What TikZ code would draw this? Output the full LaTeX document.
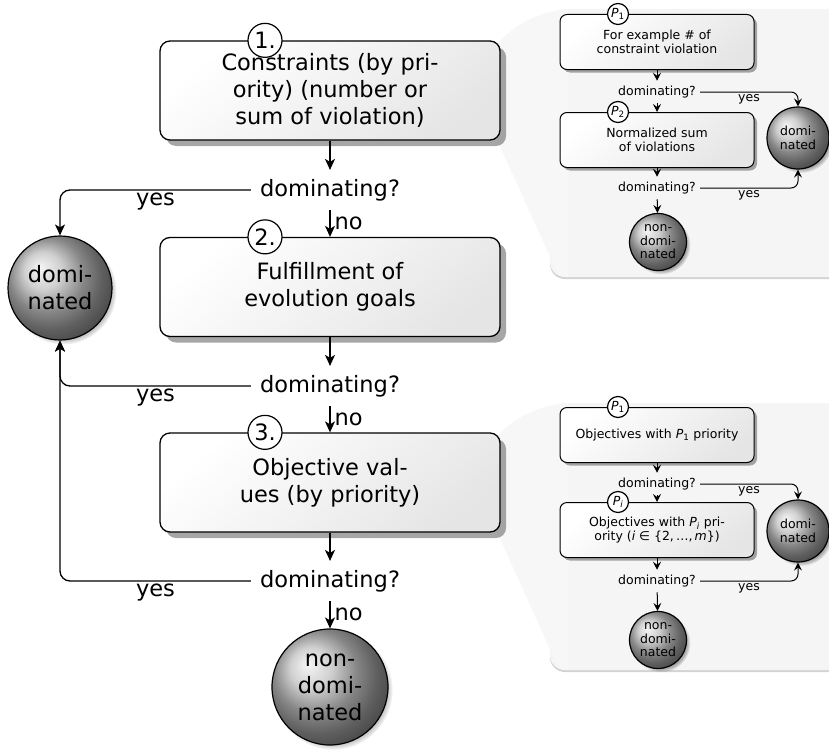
\documentclass[tikz,border=0pt]{standalone}
\usepackage{fontspec}
\setmainfont{DejaVu Sans}
\usepackage{tikz}
\usetikzlibrary{shapes,arrows.meta}
\usetikzlibrary{positioning}
\usetikzlibrary{shadows}
\newcommand{\bigfont}{\fontsize{22.5}{27}\selectfont}
\newcommand{\smallfont}{\fontsize{12.5}{13.5}\selectfont}
\tikzstyle{block} = [rectangle, draw, line width=1.3pt, rounded corners=10pt,
    top color=white, bottom color=gray!20, shading angle=40,
    minimum width=340pt, minimum height=99pt, align=center, font=\bigfont,
    drop shadow={shadow xshift=6pt, shadow yshift=-6pt, opacity=.7}]
\tikzstyle{sblock} = [rectangle, draw, line width=1pt, rounded corners=7pt,
    top color=white, bottom color=gray!20, shading angle=40,
    minimum width=194pt, minimum height=55pt, align=center, font=\smallfont,
    drop shadow={shadow xshift=3pt, shadow yshift=-3pt, opacity=.7}]
\tikzstyle{ball} = [circle, draw, line width=1.2pt, ball color=gray!50,
    inner sep=0pt, align=center,
    circular drop shadow={shadow xshift=3pt, shadow yshift=-3pt, shadow scale=1.03, opacity=.7}]
\tikzstyle{numtag} = [circle, draw, line width=1.2pt, fill=white, inner sep=0pt]
\tikzstyle{decision} = [inner xsep=9pt, inner ysep=9pt, font=\bigfont]
\tikzstyle{sdecision} = [inner xsep=4pt, inner ysep=5pt, font=\smallfont]
\tikzstyle{panel} = [fill=gray!8, rounded corners=15pt,
    drop shadow={shadow xshift=0pt, shadow yshift=-2pt, opacity=.35}]
\tikzstyle{wedge} = [fill=gray!6]
\tikzstyle{line} = [draw, line width=1.3pt, -{Stealth[length=11pt, width=10pt, inset=3pt]}]
\tikzstyle{sline} = [draw, line width=1pt, -{Stealth[length=8pt, width=8pt, inset=3pt]}]

\begin{document}
\begin{tikzpicture}[x=1pt, y=-1pt]
  \useasboundingbox (0,0) rectangle (829,752);

  % Zoom panels
  \path [panel] (550,9) rectangle (845,277);
  \path [wedge] (497,44) .. controls (515,24) and (540,11) .. (568,9) -- (568,277)
      -- (566,277) .. controls (559,276) .. (557,272) -- (498,142) -- cycle;
  \path [panel] (550,403) rectangle (845,670);
  \path [wedge] (497,436) .. controls (515,417) and (540,405) .. (568,403) -- (568,670)
      -- (566,670) .. controls (559,669) .. (557,665) -- (498,534) -- cycle;

  % Place nodes
  \node [block] (c1) at (330,90.5) {Constraints (by pri-\\ority) (number or\\sum of violation)};
  \node [numtag, minimum size=34pt, font=\bigfont] (n1) at ([xshift=-65pt]c1.north) {1.};
  \node [decision] (d1) at (330,190) {dominating?};
  \node [block] (c2) at (330,287) {Fulfillment of\\evolution goals};
  \node [numtag, minimum size=34pt, font=\bigfont] (n2) at ([xshift=-65pt]c2.north) {2.};
  \node [decision] (d2) at (330,386) {dominating?};
  \node [block] (c3) at (330,482.5) {Objective val-\\ues (by priority)};
  \node [numtag, minimum size=34pt, font=\bigfont] (n3) at ([xshift=-65pt]c3.north) {3.};
  \node [decision] (d3) at (330,581) {dominating?};
  \node [ball, minimum size=104pt, font=\bigfont] (dom) at (60,288) {domi-\\nated};
  \node [ball, minimum size=116pt, font=\bigfont] (nondom) at (330,687) {non-\\domi-\\nated};

  \path [line] (c1) -- (d1);
  \path [line] (d1) -- node [right, inner sep=4pt, font=\bigfont] {no} (c2);
  \path [line] (c2) -- (d2);
  \path [line] (d2) -- node [right, inner sep=4pt, font=\bigfont] {no} (c3);
  \path [line] (c3) -- (d3);
  \path [line] (d3) -- node [right, inner sep=4pt, font=\bigfont] {no} (nondom);

  \path [line, rounded corners=10pt] (d1.west) -| node [pos=.25, below, inner sep=2pt, font=\bigfont] {yes} (dom.north);
  \path [line, rounded corners=10pt] (d2.west) -| node [pos=.25, below, inner sep=2pt, font=\bigfont] {yes} (dom.south);
  \path [line, rounded corners=10pt] (d3.west) -| node [pos=.25, below, inner sep=2pt, font=\bigfont] {yes} (dom.south);

  % Constraint priorities
  \node [sblock] (a1) at (657,42) {For example \# of\\constraint violation};
  \node [numtag, minimum size=21pt, font=\smallfont] (p1) at ([xshift=-39pt]a1.north) {\textit{P}\textsubscript{1}};
  \node [sdecision] (ad1) at (657,92) {dominating?};
  \node [sblock] (a2) at (657,140) {Normalized sum\\of violations};
  \node [numtag, minimum size=21pt, font=\smallfont] (p2) at ([xshift=-39pt]a2.north) {\textit{P}\textsubscript{2}};
  \node [sdecision] (ad2) at (657,188) {dominating?};
  \node [ball, minimum size=62pt, font=\smallfont] (adom) at (798,138) {domi-\\nated};
  \node [ball, minimum size=57pt, font=\smallfont] (anondom) at (658,242) {non-\\domi-\\nated};

  \path [sline] (a1) -- (ad1);
  \path [sline] (ad1) -- (a2);
  \path [sline] (a2) -- (ad2);
  \path [sline] (ad2) -- (anondom);
  \path [sline, rounded corners=7pt] (ad1.east) -| node [pos=.25, below, inner sep=2pt, font=\smallfont] {yes} (adom.north);
  \path [sline, rounded corners=7pt] (ad2.east) -| node [pos=.25, below, inner sep=2pt, font=\smallfont] {yes} (adom.south);

  % Objective priorities
  \node [sblock] (b1) at (657,435) {Objectives with \textit{P}\textsubscript{1} priority};
  \node [numtag, minimum size=21pt, font=\smallfont] (q1) at ([xshift=-39pt]b1.north) {\textit{P}\textsubscript{1}};
  \node [sdecision] (bd1) at (657,484) {dominating?};
  \node [sblock] (b2) at (657,530) {Objectives with \textit{P\textsubscript{i}} pri-\\ority (\textit{i} ∈ \{2,\,\ldots,\,\textit{m}\})};
  \node [numtag, minimum size=21pt, font=\smallfont] (qi) at ([xshift=-39pt]b2.north) {\textit{P\textsubscript{i}}};
  \node [sdecision] (bd2) at (657,581) {dominating?};
  \node [ball, minimum size=62pt, font=\smallfont] (bdom) at (798,531) {domi-\\nated};
  \node [ball, minimum size=57pt, font=\smallfont] (bnondom) at (658,640) {non-\\domi-\\nated};

  \path [sline] (b1) -- (bd1);
  \path [sline] (bd1) -- (b2);
  \path [sline] (b2) -- (bd2);
  \path [sline] (bd2) -- (bnondom);
  \path [sline, rounded corners=7pt] (bd1.east) -| node [pos=.25, below, inner sep=2pt, font=\smallfont] {yes} (bdom.north);
  \path [sline, rounded corners=7pt] (bd2.east) -| node [pos=.25, below, inner sep=2pt, font=\smallfont] {yes} (bdom.south);

\end{tikzpicture}
\end{document}
